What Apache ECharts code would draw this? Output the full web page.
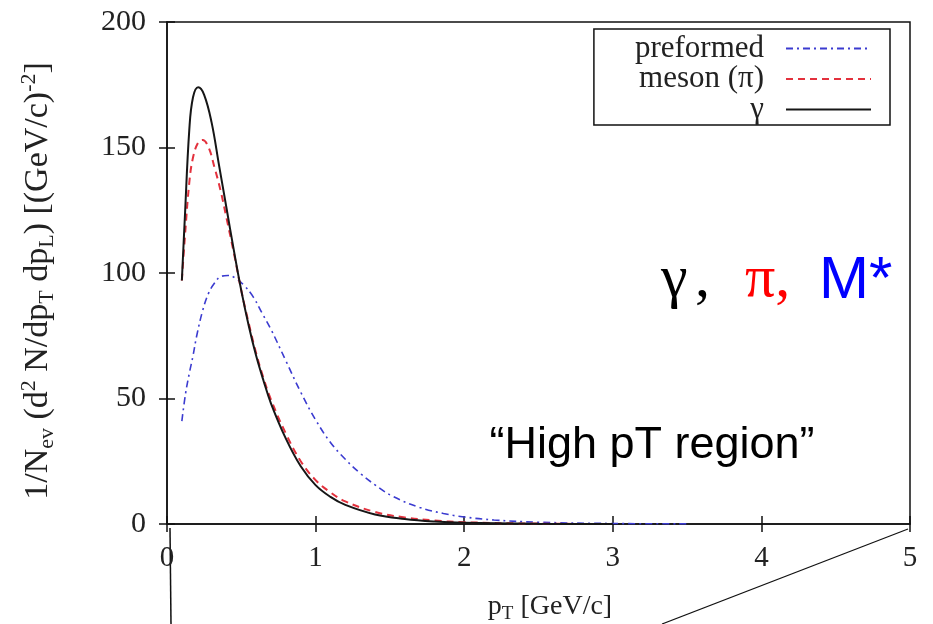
<!DOCTYPE html>
<html>
<head>
<meta charset="utf-8">
<script src="https://cdn.jsdelivr.net/npm/echarts@6/dist/echarts.min.js"></script>
<style>
html, body { margin: 0; padding: 0; background: #fff; }
#main { width: 933px; height: 624px; }
</style>
</head>
<body>
<div id="main"></div>
<script>
// p_T values and spectra
var preformedPt  = [0.10, 0.125, 0.15, 0.175, 0.20, 0.24, 0.28, 0.32, 0.36, 0.41, 0.46, 0.52, 0.58, 0.64, 0.70, 0.80, 0.90, 1.00, 1.10, 1.20, 1.30, 1.40, 1.52, 1.70, 1.86, 2.00, 2.20, 2.50, 3.00, 3.50];
var preformedVal = [41, 52, 60, 67, 75, 85, 92, 96, 98.5, 99, 98, 95, 90.5, 84, 77.5, 65, 52.5, 41.5, 32.5, 25.8, 20.2, 15.6, 11.0, 6.6, 4.2, 2.8, 1.6, 0.7, 0.2, 0.05];

var mesonPt  = [0.10, 0.12, 0.15, 0.175, 0.21, 0.24, 0.28, 0.32, 0.36, 0.40, 0.45, 0.50, 0.55, 0.60, 0.65, 0.70, 0.80, 0.90, 1.00, 1.10, 1.20, 1.40, 1.60, 1.80, 2.00, 2.50, 3.00];
var mesonVal = [97, 114, 136, 146, 152, 153, 150, 142, 133, 122, 108, 93, 80, 68, 58, 49.5, 36, 25, 17.5, 12.6, 9, 4.8, 2.6, 1.4, 0.7, 0.15, 0];

var gammaPt  = [0.10, 0.12, 0.15, 0.175, 0.21, 0.25, 0.30, 0.35, 0.40, 0.45, 0.50, 0.55, 0.60, 0.65, 0.70, 0.80, 0.90, 1.00, 1.10, 1.20, 1.40, 1.60, 1.80, 2.00, 2.50, 3.00];
var gammaVal = [97, 122, 157, 170, 174, 171, 160, 143, 126, 109, 93, 79, 67, 57, 48, 34, 23, 15.5, 10.8, 7.6, 3.8, 2.0, 1.0, 0.5, 0.1, 0];

var seriesNames = ['preformed', 'meson (\u03c0)', '\u03b3'];
var xTickLabels = ['0', '1', '2', '3', '4', '5'];
var yTickLabels = ['0', '50', '100', '150', '200'];

var SERIF = 'Liberation Serif';
var SANS = 'Liberation Sans';

function zip(xs, ys) {
    var out = [];
    for (var i = 0; i < xs.length; i++) {
        out.push([xs[i], ys[i]]);
    }
    return out;
}

function lineSeries(name, xs, ys, color, width, dash) {
    return {
        name: name,
        type: 'line',
        data: zip(xs, ys),
        symbol: 'none',
        smooth: 0.4,
        lineStyle: { color: color, width: width, type: dash },
        itemStyle: { color: color },
        z: 3
    };
}

function label(text, x, y, font, color) {
    return {
        type: 'text', x: x, y: y,
        style: { text: text, font: font, fill: color, align: 'left', verticalAlign: 'middle' }
    };
}

var tickStyle = { show: true, inside: true, length: 8, lineStyle: { color: '#111', width: 1.5 } };

var myChart = echarts.init(document.getElementById('main'), null, { renderer: 'canvas' });

var option = {
    backgroundColor: '#fff',
    animation: false,
    grid: {
        left: 167, top: 22, right: 23, bottom: 100,
        show: true, borderColor: '#111', borderWidth: 1.5,
        outerBoundsMode: 'none'
    },
    xAxis: [{
        type: 'value', min: 0, max: 5, interval: 1,
        axisLine: { show: true, lineStyle: { color: '#111', width: 1.5 } },
        axisTick: tickStyle,
        splitLine: { show: false },
        axisLabel: {
            margin: 20, fontFamily: SERIF, fontSize: 29, color: '#222',
            formatter: function (v) { return xTickLabels[Math.round(v)]; }
        }
    }, {
        type: 'value', min: 0, max: 5, interval: 1, position: 'top',
        axisLine: { show: false }, axisTick: tickStyle,
        axisLabel: { show: false }, splitLine: { show: false }
    }],
    yAxis: [{
        type: 'value', min: 0, max: 200, interval: 50,
        axisLine: { show: true, lineStyle: { color: '#111', width: 1.5 } },
        axisTick: tickStyle,
        splitLine: { show: false },
        axisLabel: {
            margin: 21, fontFamily: SERIF, fontSize: 30, color: '#222',
            formatter: function (v) { return yTickLabels[Math.round(v / 50)]; }
        }
    }, {
        type: 'value', min: 0, max: 200, interval: 50, position: 'right',
        axisLine: { show: false }, axisTick: tickStyle,
        axisLabel: { show: false }, splitLine: { show: false }
    }],
    legend: {
        data: seriesNames,
        orient: 'vertical',
        align: 'right',
        right: 43,
        top: 29,
        itemWidth: 85,
        itemHeight: 14,
        itemGap: -0.5,
        padding: [4, 18, 0, 41],
        borderColor: '#111',
        borderWidth: 1.5,
        selectedMode: false,
        itemStyle: { opacity: 0 },
        textStyle: {
            fontFamily: SERIF, fontSize: 31, color: '#222',
            padding: [0, 17, 0, 0]
        }
    },
    series: [
        lineSeries(seriesNames[0], preformedPt, preformedVal, '#3b3bd0', 1.6, [7, 4, 2, 4]),
        lineSeries(seriesNames[1], mesonPt, mesonVal, '#e3313d', 2, [7, 5]),
        lineSeries(seriesNames[2], gammaPt, gammaVal, '#161616', 2, 'solid')
    ],
    graphic: [
        {
            type: 'text', x: 38, y: 281, rotation: Math.PI / 2,
            style: {
                text: '1/N{sub|ev} (d{sup|2} N/dp{sub|T} dp{sub|L}) [(GeV/c){sup|-2}]',
                font: '34px "Liberation Serif"', fill: '#222', lineHeight: 40,
                align: 'center', verticalAlign: 'middle',
                rich: {
                    sub: { fontFamily: SERIF, fontSize: 22, lineHeight: 22, verticalAlign: 'bottom', fill: '#222' },
                    sup: { fontFamily: SERIF, fontSize: 22, lineHeight: 22, verticalAlign: 'top', fill: '#222' }
                }
            }
        },
        {
            type: 'text', x: 550, y: 607,
            style: {
                text: 'p{sub|T} [GeV/c]',
                font: '28px "Liberation Serif"', fill: '#222', lineHeight: 34,
                align: 'center', verticalAlign: 'middle',
                rich: {
                    sub: { fontFamily: SERIF, fontSize: 19, lineHeight: 19, verticalAlign: 'bottom', fill: '#222' }
                }
            }
        },
        label('\u03b3', 661, 280, '60px "Liberation Serif"', '#000'),
        label(',', 695, 280, '60px "Liberation Serif"', '#000'),
        label('\u03c0,', 745, 280, '60px "Liberation Serif"', '#ff0000'),
        label('M*', 819, 281, '60px "Liberation Sans"', '#0000ff'),
        {
            type: 'text', x: 652, y: 446,
            style: {
                text: '\u201cHigh pT region\u201d',
                font: '45px "Liberation Sans"', fill: '#000',
                align: 'center', verticalAlign: 'middle'
            }
        },
        {
            type: 'line',
            shape: { x1: 170, y1: 528, x2: 171, y2: 624 },
            style: { stroke: '#111', lineWidth: 1.5 }
        },
        {
            type: 'line',
            shape: { x1: 908, y1: 529, x2: 662, y2: 624 },
            style: { stroke: '#111', lineWidth: 1.2 }
        }
    ]
};

myChart.setOption(option);
</script>
</body>
</html>
